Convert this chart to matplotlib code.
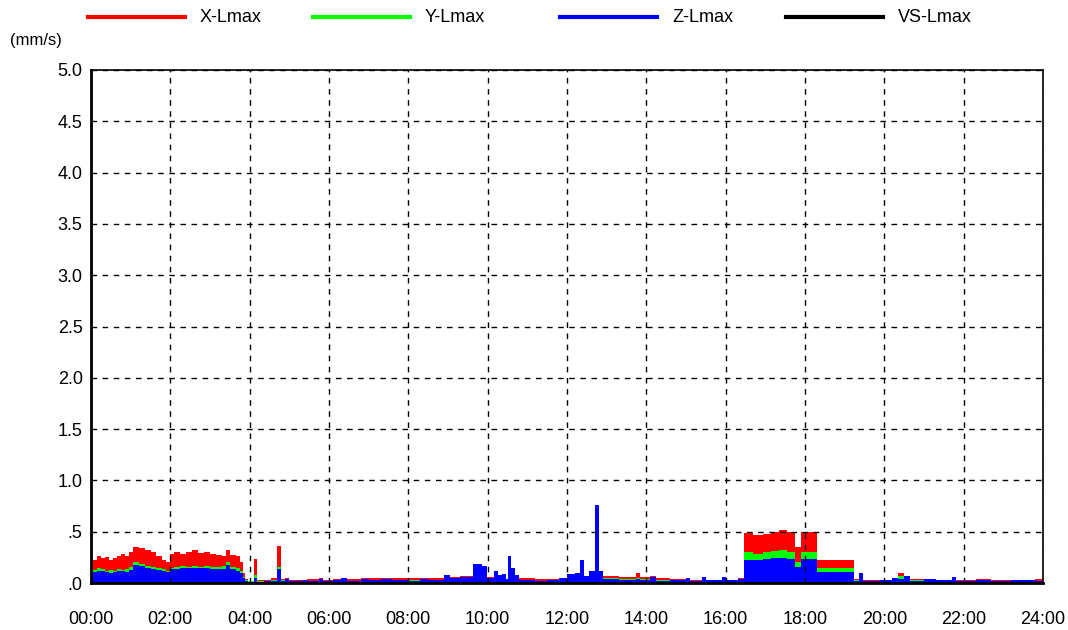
import numpy as np
import matplotlib.pyplot as plt
from matplotlib.lines import Line2D

plt.rcParams['font.family'] = ['Liberation Sans', 'DejaVu Sans']

# ---- data (hours of day, mm/s) ----
hours = [0.00, 0.05, 0.15, 0.25, 0.35, 0.45, 0.55, 0.65, 0.75, 0.85,
         0.95, 1.05, 1.20, 1.35, 1.50, 1.65, 1.80, 1.90, 2.00, 2.10,
         2.25, 2.40, 2.55, 2.70, 2.85, 3.00, 3.15, 3.30, 3.40, 3.50,
         3.65, 3.75, 3.82, 3.88, 3.95, 4.10, 4.18, 4.35, 4.55, 4.70,
         4.78, 4.90, 5.00, 5.35, 5.45, 5.75, 5.85, 6.10, 6.30, 6.45,
         6.80, 7.00, 7.30, 7.60, 8.00, 8.30, 8.50, 8.90, 9.05, 9.30,
         9.63, 9.85, 9.98, 10.15, 10.25, 10.35, 10.45, 10.50, 10.60, 10.68,
         10.78, 11.20, 11.50, 11.80, 12.00, 12.20, 12.33, 12.42, 12.55, 12.70,
         12.80, 12.90, 13.30, 13.75, 13.85, 14.10, 14.25, 14.60, 15.00, 15.10,
         15.40, 15.50, 15.90, 16.00, 16.30, 16.46, 16.70, 16.95, 17.15, 17.35,
         17.55, 17.75, 17.90, 18.30, 19.23, 19.35, 19.45, 19.90, 20.20, 20.35,
         20.50, 20.65, 21.00, 21.30, 21.70, 21.80, 22.30, 22.70, 23.20, 23.80,
         24.00]

x_lmax = [.20, .22, .26, .24, .25, .22, .24, .26, .28, .26,
          .30, .35, .34, .32, .30, .26, .22, .20, .28, .30,
          .28, .30, .32, .29, .30, .28, .27, .26, .32, .27,
          .26, .20, .10, .04, .02, .23, .03, .03, .05, .36,
          .04, .05, .03, .03, .04, .05, .03, .04, .05, .04,
          .05, .05, .05, .05, .05, .05, .05, .06, .06, .07,
          .12, .10, .06, .08, .06, .05, .04, .08, .06, .05,
          .05, .04, .04, .04, .06, .07, .08, .06, .06, .10,
          .10, .07, .06, .10, .06, .07, .05, .04, .04, .03,
          .04, .03, .05, .03, .05, .49, .47, .48, .50, .52,
          .50, .35, .50, .22, .04, .04, .03, .03, .03, .10,
          .06, .04, .03, .03, .04, .03, .04, .03, .03, .04,
          .04]

y_lmax = [.10, .13, .15, .14, .12, .13, .12, .14, .13, .14,
          .16, .20, .19, .17, .16, .15, .14, .12, .15, .16,
          .17, .16, .17, .16, .17, .16, .16, .17, .20, .16,
          .15, .12, .06, .03, .02, .08, .02, .02, .03, .16,
          .03, .02, .02, .02, .02, .03, .02, .02, .03, .02,
          .03, .03, .02, .03, .03, .03, .03, .04, .04, .05,
          .10, .08, .04, .06, .05, .04, .03, .06, .05, .04,
          .03, .02, .03, .03, .05, .05, .06, .05, .05, .08,
          .08, .05, .04, .05, .04, .04, .03, .03, .02, .02,
          .03, .02, .03, .02, .03, .30, .28, .30, .31, .32,
          .30, .20, .30, .15, .03, .03, .02, .02, .02, .07,
          .05, .03, .02, .02, .02, .02, .02, .02, .02, .02,
          .02]

z_lmax = [.08, .11, .12, .12, .11, .10, .11, .12, .12, .11,
          .13, .18, .17, .15, .14, .13, .12, .11, .14, .14,
          .15, .15, .15, .15, .15, .14, .14, .14, .18, .14,
          .12, .10, .05, .02, .01, .05, .01, .02, .02, .14,
          .02, .04, .02, .03, .02, .04, .02, .03, .05, .02,
          .04, .03, .04, .03, .02, .04, .03, .08, .05, .06,
          .19, .17, .05, .12, .08, .09, .04, .26, .15, .08,
          .03, .02, .03, .05, .09, .10, .22, .07, .12, .76,
          .12, .04, .03, .04, .03, .06, .02, .03, .05, .02,
          .06, .03, .06, .03, .04, .22, .22, .23, .24, .24,
          .23, .16, .23, .11, .02, .10, .02, .03, .05, .04,
          .07, .02, .04, .03, .06, .02, .03, .02, .03, .02,
          .02]

series = ["X-Lmax", "Y-Lmax", "Z-Lmax", "VS-Lmax"]
colors = ["#ff0000", "#00ff00", "#0000ff", "#000000"]

hour_ticks = np.arange(0, 25, 2)
hour_labels = [f"{h:02d}:00" for h in hour_ticks]
val_ticks = np.arange(0, 5.01, 0.5)
val_labels = [".0", ".5", "1.0", "1.5", "2.0", "2.5", "3.0", "3.5", "4.0", "4.5", "5.0"]

#-----------
fig = plt.figure(figsize=(10.68, 6.30), dpi=100)
ax = fig.add_axes([91/1068, 1 - 583/630, (1043 - 91)/1068, (583 - 70)/630])

for vals, c in zip([x_lmax, y_lmax, z_lmax], colors[:3]):
    ax.fill_between(hours, 0, vals, step="post", color=c, lw=0, antialiased=False, zorder=2)

ax.set_xlim(0, 24)
ax.set_ylim(0, 5)
ax.set_xticks(hour_ticks)
ax.set_xticklabels(hour_labels)
ax.set_yticks(val_ticks)
ax.set_yticklabels(val_labels)
ax.tick_params(axis="both", length=0, labelsize=13)
ax.tick_params(axis="x", pad=20)
ax.tick_params(axis="y", pad=6)

ax.grid(True, color="black", linestyle=(0, (4, 4)), lw=1, zorder=3)
ax.set_axisbelow(False)

for side in ["left", "bottom"]:
    ax.spines[side].set_linewidth(2)
for side in ["top", "right"]:
    ax.spines[side].set_linewidth(1.2)

# legend drawn across the top
leg_x = [88, 313, 560, 786]
for name, c, x0 in zip(series, colors, leg_x):
    fig.add_artist(Line2D([x0/1068, (x0 + 97)/1068], [1 - 17/630] * 2,
                          color=c, lw=3, transform=fig.transFigure))
    fig.text((x0 + 112)/1068, 1 - 17/630, name, fontsize=13, va="center", ha="left")

fig.text(10/1068, 1 - 41/630, "(mm/s)", fontsize=12, va="center", ha="left")

fig.savefig("out.png", dpi=100)
